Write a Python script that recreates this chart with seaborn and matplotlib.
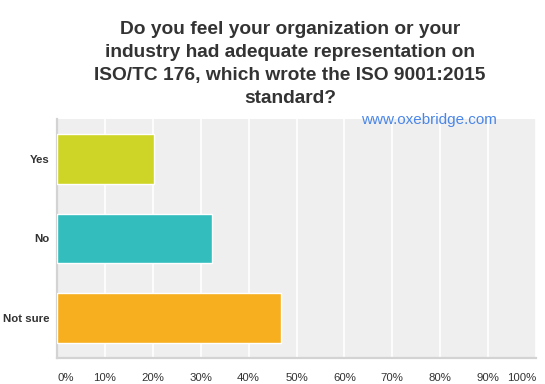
import matplotlib
matplotlib.use("Agg")
import matplotlib.pyplot as plt
import seaborn as sns
import pandas as pd

categories = ["Yes", "No", "Not sure"]
values = [20.2, 32.3, 46.8]
colors = ["#CFD526", "#33BDBD", "#F7AF1F"]
tick_values = [0, 10, 20, 30, 40, 50, 60, 70, 80, 90, 100]
tick_labels = ["0%", "10%", "20%", "30%", "40%", "50%", "60%", "70%", "80%", "90%", "100%"]

sns.set_theme(style="white")
plt.rcParams['font.family'] = ['Liberation Sans', 'DejaVu Sans']

df = pd.DataFrame({"answer": categories, "pct": values})

fig = plt.figure(figsize=(5.45, 3.84), dpi=100)
ax = fig.add_axes([57/545, 1-358/384, (536-57)/545, (358-119)/384])
ax.set_facecolor("#EFEFEF")

sns.barplot(data=df, x="pct", y="answer", hue="answer", palette=colors,
            order=categories, hue_order=categories, legend=False,
            width=0.625, ax=ax, zorder=3, saturation=1)

ax.set_xlim(0, 100)
ax.set_ylim(2.5, -0.5)
ax.set_xticks(tick_values)
ax.set_xticklabels(tick_labels, fontsize=8.2, color="#333333")
for i, lab in enumerate(ax.get_xticklabels()):
    if i == 0:
        lab.set_horizontalalignment("left")
    elif i == len(tick_values) - 1:
        lab.set_horizontalalignment("right")
ax.tick_params(axis="x", length=0, pad=11)
ax.tick_params(axis="y", length=0, pad=5.5)
for lab in ax.get_yticklabels():
    lab.set_fontweight("bold")
    lab.set_fontsize(8.2)
    lab.set_color("#333333")
ax.set_xlabel("")
ax.set_ylabel("")
ax.grid(axis="x", color="white", linewidth=1.2, zorder=1)
ax.set_axisbelow(True)
for s in ["top", "right"]:
    ax.spines[s].set_visible(False)
for s in ["left", "bottom"]:
    ax.spines[s].set_color("#D3D3D3")
    ax.spines[s].set_linewidth(1.6)

fig.text(290/545, 1-64/384,
         "Do you feel your organization or your\nindustry had adequate representation on\nISO/TC 176, which wrote the ISO 9001:2015\nstandard?",
         ha="center", va="center", fontsize=13.8, fontweight="bold",
         color="#333333", linespacing=1.46)
fig.text(429/545, 1-120/384, "www.oxebridge.com", ha="center", va="center",
         fontsize=11, color="#4A86E8")

fig.savefig("out.png", dpi=100)
